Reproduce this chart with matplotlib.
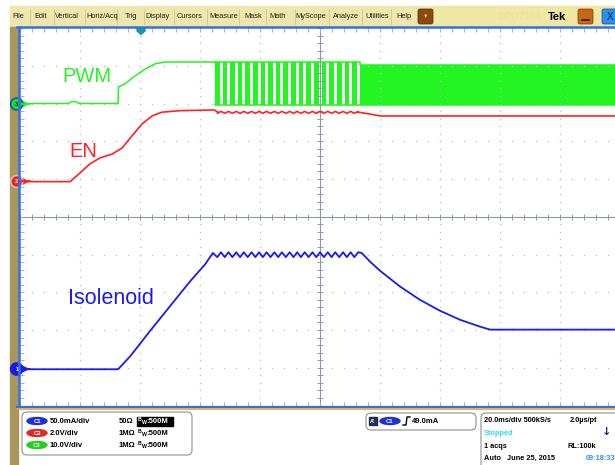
import matplotlib
matplotlib.use('Agg')
import matplotlib.pyplot as plt
from matplotlib.patches import Rectangle, FancyBboxPatch, Circle, Ellipse, Polygon

plt.rcParams['font.family'] = ['Liberation Sans', 'DejaVu Sans']

# time in ms (20 ms/div, 0 = centre of screen), level in screen divisions
en_t = [-100, -83.3, -80, -76.7, -73.3, -69.3, -66, -62.7, -59.3, -56, -52.7, -46.7, -35.3, -34, 12.7, 16.7, 20, 100]
en_v = [0.93, 0.93, 1.16, 1.40, 1.56, 1.66, 1.82, 2.14, 2.46, 2.67, 2.77, 2.81, 2.83, 2.77, 2.77, 2.72, 2.67, 2.67]

pwm_t = [-100, -84, -82.7, -81.3, -80.3, -67.3, -67.2, -65, -61.7, -58.3, -55, -51.7, -35]
pwm_v = [3.0, 3.0, 3.05, 3.05, 3.0, 3.0, 3.44, 3.52, 3.73, 3.91, 4.05, 4.10, 4.10]
pwm_burst_start = -35.0
pwm_gap_start = [-33.5, -31.0, -28.4, -25.9, -23.3, -20.8, -18.3, -15.7, -13.2, -10.6,
                 -8.1, -5.6, -3.0, -0.5, 2.1, 4.6, 7.2, 9.7, 12.2]
pwm_gap_len = 1.0
pwm_hi = 4.10
pwm_lo = 2.96
pwm_fast_hi = 4.03

coil_t = [-100, -67.3, -63.3, -56.7, -50, -43.3, -38.3, -35.7]
coil_v = [-4.04, -4.04, -3.70, -3.03, -2.37, -1.71, -1.26, -0.96]
coil_ripple_hi = -0.94
coil_ripple_lo = -1.07
coil_off_t = [13.9, 16.7, 20, 26.7, 33.3, 40, 46.7, 53.3, 56.7, 100]
coil_off_v = [-0.96, -1.19, -1.43, -1.85, -2.20, -2.49, -2.73, -2.91, -2.99, -2.99]

menu_items = ['File', 'Edit', 'Vertical', 'Horiz/Acq', 'Trig', 'Display', 'Cursors', 'Measure',
              'Mask', 'Math', 'MyScope', 'Analyze', 'Utilities', 'Help']
menu_x = [18, 41, 67, 102, 131, 157, 190, 224, 253, 278, 311, 346, 377, 404]

GREEN = '#22F522'
RED = '#FF2222'
BLUE = '#1A1AF0'

fig = plt.figure(figsize=(6.15, 4.65), dpi=100)

# background layer in pixel coords
bg = fig.add_axes([0, 0, 1, 1])
bg.set_xlim(0, 615)
bg.set_ylim(465, 0)
bg.axis('off')

bg.add_patch(Rectangle((10, 6), 605, 21, color='#EEE6AA', zorder=1))
bg.add_patch(Rectangle((434, 6), 181, 21, color='#F0E7A2', zorder=1))
for i, name in enumerate(menu_items):
    bg.text(menu_x[i], 16.5, name, fontsize=5.3, ha='center', va='center', color='#202020', zorder=3)
    if i < len(menu_items) - 1:
        sx = (menu_x[i] + menu_x[i + 1]) / 2
        bg.plot([sx, sx], [9, 24], color='#CFC690', lw=0.6, zorder=2)
bg.add_patch(FancyBboxPatch((418, 9), 15, 15, boxstyle='round,pad=0,rounding_size=2',
                            fc='#8A4A14', ec='#5A2A00', lw=0.5, zorder=3))
bg.text(425.5, 16.5, '▼', fontsize=4, color='#F5D060', ha='center', va='center', zorder=4)
bg.text(520, 17, 'DPO7104', fontsize=7, color='#ECE29E', ha='center', va='center', fontweight='bold', zorder=3)
bg.text(557, 16.5, 'Tek', fontsize=8, color='black', ha='center', va='center', fontweight='bold', zorder=3)
bg.add_patch(FancyBboxPatch((578, 9), 15, 15, boxstyle='round,pad=0,rounding_size=2',
                            fc='#C8661A', ec='#7A3A00', lw=0.5, zorder=3))
bg.plot([582, 589], [20, 20], color='#3A1A00', lw=1.2, zorder=4)
bg.add_patch(FancyBboxPatch((602, 9), 16, 15, boxstyle='round,pad=0,rounding_size=2',
                            fc='#2E8EEA', ec='#0A4A9A', lw=0.5, zorder=3))
bg.text(610, 17, 'X', fontsize=7, color='#0A2050', ha='center', va='center', zorder=4)

# left strip
bg.add_patch(Rectangle((10, 27), 7.5, 438, color='#A99658', zorder=1))

# status boxes
bg.add_patch(FancyBboxPatch((22, 412), 170, 43, boxstyle='round,pad=0,rounding_size=5',
                            fc='white', ec='#909090', lw=0.8, zorder=2))
bg.add_patch(FancyBboxPatch((366, 413), 110, 17, boxstyle='round,pad=0,rounding_size=5',
                            fc='white', ec='#909090', lw=0.8, zorder=2))
bg.add_patch(FancyBboxPatch((481, 413), 150, 60, boxstyle='round,pad=0,rounding_size=5',
                            fc='white', ec='#909090', lw=0.8, zorder=2))

ch_rows = [421, 433, 445]
ch_names = ['C1', 'C2', 'C3']
ch_cols = ['#2030D8', '#E02828', '#22D022']
ch_scale = ['50.0mA/div', '2.0V/div', '10.0V/div']
ch_imp = ['50Ω', '1MΩ', '1MΩ']
for i in range(3):
    y = ch_rows[i]
    bg.add_patch(Ellipse((37, y), 20, 7, color=ch_cols[i], zorder=3))
    bg.text(37, y + 0.3, ch_names[i], fontsize=4.2, color='white', ha='center', va='center', fontweight='bold', zorder=4)
    bg.text(50, y, ch_scale[i], fontsize=5.5, ha='left', va='center', fontweight='bold', zorder=4)
    bg.text(119, y, ch_imp[i], fontsize=5.5, ha='left', va='center', fontweight='bold', zorder=4)
    tc = 'black'
    if i == 0:
        bg.add_patch(Rectangle((137, y - 4.5), 36, 9, color='black', zorder=3))
        tc = 'white'
    bg.text(138, y - 1.5, 'B', fontsize=3.8, color=tc, ha='left', va='center', fontweight='bold', zorder=4)
    bg.text(141.5, y + 1.3, 'W', fontsize=3.8, color=tc, ha='left', va='center', fontweight='bold', zorder=4)
    bg.text(146, y, ':500M', fontsize=5.5, color=tc, ha='left', va='center', fontweight='bold', zorder=4)

bg.add_patch(Rectangle((369, 417), 8, 8, color='#203050', zorder=3))
bg.text(373, 421.3, "A'", fontsize=4, color='white', ha='center', va='center', fontweight='bold', zorder=4)
bg.add_patch(Ellipse((390, 421), 20, 7, color='#2030D8', zorder=3))
bg.text(390, 421.3, 'C1', fontsize=4.2, color='white', ha='center', va='center', fontweight='bold', zorder=4)
bg.plot([403, 406, 407, 410], [425, 425, 417, 417], color='black', lw=1, zorder=4)
bg.text(412, 421, '49.0mA', fontsize=5.5, ha='left', va='center', fontweight='bold', zorder=4)

bg.text(484, 420, '20.0ms/div 500kS/s', fontsize=5.3, ha='left', va='center', fontweight='bold', zorder=4)
bg.text(570, 420, '2.0µs/pt', fontsize=5.3, ha='left', va='center', fontweight='bold', zorder=4)
bg.text(484, 433, 'Stopped', fontsize=5.3, ha='left', va='center', fontweight='bold', color='#30DDEE', zorder=4)
bg.text(607, 432, '↓', fontsize=8, ha='center', va='center', fontweight='bold', color='#1A2A8A',
        family=['DejaVu Sans'], zorder=4)
bg.text(484, 446, '1 acqs', fontsize=5.3, ha='left', va='center', fontweight='bold', zorder=4)
bg.text(568, 446, 'RL:100k', fontsize=5.3, ha='left', va='center', fontweight='bold', zorder=4)
bg.text(484, 458, 'Auto   June 25, 2015', fontsize=5.3, ha='left', va='center', fontweight='bold', zorder=4)
bg.text(586, 458, '09:18:33', fontsize=5.3, ha='left', va='center', fontweight='bold', color='#3A8AE0', zorder=4)

# graticule
ax = fig.add_axes([20 / 615, (465 - 405.5) / 465, 600 / 615, 377.5 / 465])
ax.set_xlim(-100, 100)
ax.set_ylim(-5, 5)
ax.axis('off')

minor_x = [-100 + 4 * k for k in range(51)]
minor_y = [-5 + 0.2 * k for k in range(51)]
grid_col = '#BDBDBD'
for gx in range(-80, 100, 20):
    if gx != 0:
        ax.plot([gx] * len(minor_y), minor_y, ls='none', marker='s', ms=0.9, color=grid_col, mew=0)
for gy in range(-4, 5):
    if gy != 0:
        ax.plot(minor_x, [gy] * len(minor_x), ls='none', marker='s', ms=0.9, color=grid_col, mew=0)
axis_col = '#8A9AAE'
ax.axhline(0, color=axis_col, lw=0.8)
ax.axvline(0, color=axis_col, lw=0.8)
ax.plot(minor_x, [0] * len(minor_x), ls='none', marker='|', ms=5, mew=0.7, color=axis_col)
ax.plot([0] * len(minor_y), minor_y, ls='none', marker='_', ms=5, mew=0.7, color=axis_col)
ax.plot(minor_x, [4.96] * len(minor_x), ls='none', marker='|', ms=3, mew=0.7, color='#A8B0BC', clip_on=False)
ax.plot(minor_x, [-4.96] * len(minor_x), ls='none', marker='|', ms=3, mew=0.7, color='#A8B0BC', clip_on=False)
ax.plot([-99.4] * len(minor_y), minor_y, ls='none', marker='_', ms=3, mew=0.7, color='#A8B0BC', clip_on=False)

# PWM (C3)
ax.plot(pwm_t, pwm_v, color=GREEN, lw=1.1)
bar_starts = [pwm_burst_start] + [g + pwm_gap_len for g in pwm_gap_start[:-1]]
for s, e in zip(bar_starts, pwm_gap_start):
    ax.fill_between([s, e], pwm_lo, pwm_hi, color=GREEN, lw=0)
fast_start = pwm_gap_start[-1] + pwm_gap_len
ax.fill_between([fast_start, 100], pwm_lo, pwm_fast_hi, color=GREEN, lw=0)
ax.plot([pwm_burst_start, fast_start, fast_start, 100], [pwm_hi, pwm_hi, pwm_fast_hi, pwm_fast_hi], color=GREEN, lw=1.1)
ax.plot([pwm_burst_start, 100], [pwm_lo, pwm_lo], color=GREEN, lw=1.1)

# solenoid current (C1) with ripple following the PWM bursts
bar_mid = [(s + e) / 2 for s, e in zip(bar_starts, pwm_gap_start)]
gap_mid = [g + pwm_gap_len / 2 for g in pwm_gap_start]
rip = sorted(list(zip(bar_mid, [coil_ripple_lo] * len(bar_mid))) +
             list(zip(gap_mid, [coil_ripple_hi] * len(gap_mid))))
ct = coil_t + [p[0] for p in rip] + coil_off_t
cv = coil_v + [p[1] for p in rip] + coil_off_v
ax.plot(ct, cv, color=BLUE, lw=1.3)

# EN (C2), small ripple while PWM bursts run
en_rip = sorted(list(zip(bar_mid, [en_v[13] - 0.03] * len(bar_mid))) +
                list(zip(gap_mid, [en_v[13] + 0.02] * len(gap_mid))))
et = en_t[:14] + [p[0] for p in en_rip] + en_t[14:]
ev = en_v[:14] + [p[1] for p in en_rip] + en_v[14:]
ax.plot(et, ev, color=RED, lw=1.2)

# overlay: borders, channel markers, labels
fg = fig.add_axes([0, 0, 1, 1], zorder=5)
fg.set_xlim(0, 615)
fg.set_ylim(465, 0)
fg.axis('off')
fg.patch.set_alpha(0)
fg.plot([17, 615], [27.5, 27.5], color='#2F72E6', lw=1.8)
fg.plot([18.8, 18.8], [27, 406.5], color='#2F72E6', lw=1.8)
fg.plot([17, 615], [406.5, 406.5], color='#2F72E6', lw=1.6)
fg.plot([17, 615], [408.8, 408.8], color='#E8A23C', lw=1.2)
fg.add_patch(Polygon([(137, 28), (145, 28), (145, 31), (141, 34.5), (137, 31)], color='#139E9E'))

markers = [(104, '3', '#22DD22', '#1A50D0', GREEN),
           (181.5, '2', '#EE2020', '#C8C8C8', RED),
           (369, '1', '#1A1AE6', '#1A1AE6', BLUE)]
for y, lab, fc, ec, col in markers:
    fg.plot([22, 30], [y, y], color=col, lw=1.2)
    fg.add_patch(Polygon([(22, y - 3), (22, y + 3), (28, y)], color=col))
    fg.add_patch(Circle((16.7, y), 6, fc=fc, ec=ec, lw=1.2))
    fg.text(16.7, y + 0.3, lab, fontsize=4, color='#103010' if lab == '3' else 'white',
            ha='center', va='center', fontweight='bold')

fg.text(62, 76, 'PWM', fontsize=14.5, color=GREEN, ha='left', va='center')
fg.text(69, 151, 'EN', fontsize=14.5, color=RED, ha='left', va='center')
fg.text(68, 298, 'Isolenoid', fontsize=15.5, color=BLUE, ha='left', va='center')

fig.savefig('out.png', dpi=100)
